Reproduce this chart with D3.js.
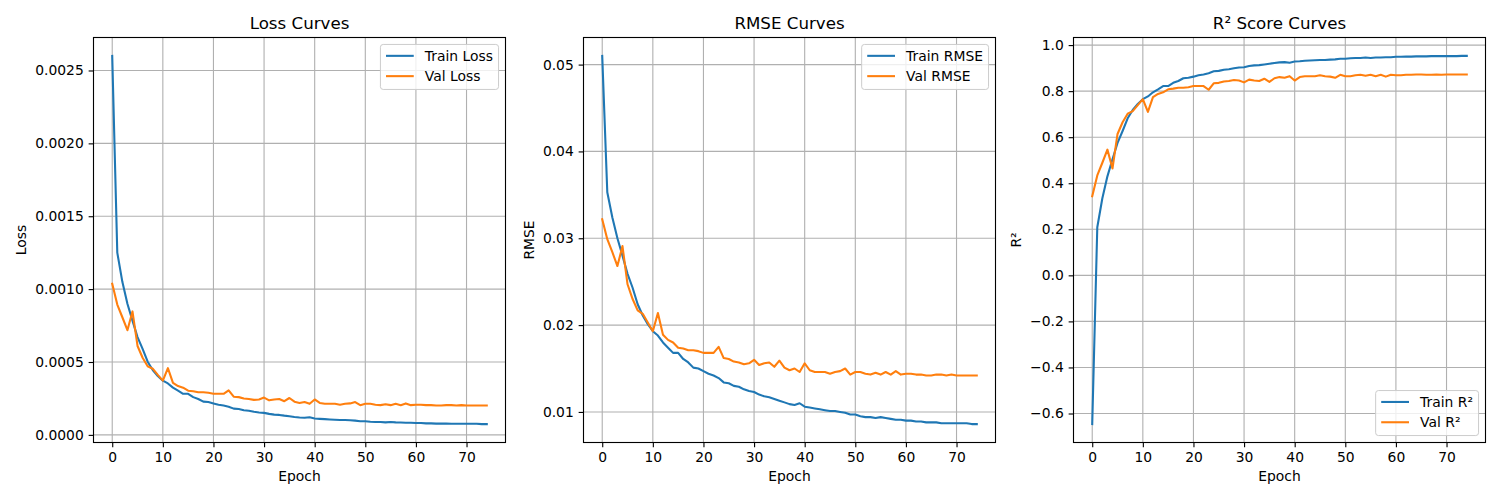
<!DOCTYPE html>
<html>
<head>
<meta charset="utf-8">
<script src="https://cdn.jsdelivr.net/npm/d3@7"></script>
<style>
body { margin: 0; background: #fff; }
text { font-family: "DejaVu Sans", sans-serif; fill: #000; }
</style>
</head>
<body>
<svg id="chart" width="1500" height="500"></svg>
<script>
// data, one value per epoch (0..74)
var trainLoss = [0.00260, 0.00125, 0.00105, 0.00090, 0.000784, 0.000671, 0.000590, 0.000502, 0.000445, 0.000404,
    0.000372, 0.000353, 0.000324, 0.000303, 0.000282, 0.000282, 0.000259, 0.000246, 0.000228, 0.000225,
    0.000216, 0.000207, 0.000202, 0.000193, 0.000180, 0.000177, 0.000169, 0.000166, 0.000159, 0.000154,
    0.000151, 0.000144, 0.000139, 0.000137, 0.000132, 0.000128, 0.000123, 0.000119, 0.000117, 0.000121,
    0.000112, 0.000110, 0.000108, 0.000106, 0.000104, 0.000102, 0.000102, 0.000100, 0.000098, 0.000094,
    0.000094, 0.000090, 0.000088, 0.000088, 0.000086, 0.000088, 0.000086, 0.000085, 0.000083, 0.000083,
    0.000081, 0.000081, 0.000079, 0.000079, 0.000077, 0.000077, 0.000077, 0.000076, 0.000076, 0.000076,
    0.000076, 0.000076, 0.000076, 0.000074, 0.000074];
var valLoss = [0.001037, 0.000894, 0.000807, 0.000718, 0.000847, 0.000610, 0.000529, 0.000471, 0.000454, 0.000412,
    0.000372, 0.000458, 0.000357, 0.000335, 0.000324, 0.000303, 0.000299, 0.000292, 0.000292, 0.000289,
    0.000282, 0.000282, 0.000282, 0.000306, 0.000262, 0.000259, 0.000250, 0.000246, 0.000240, 0.000243,
    0.000256, 0.000237, 0.000243, 0.000246, 0.000231, 0.000253, 0.000228, 0.000219, 0.000225, 0.000213,
    0.000243, 0.000219, 0.000213, 0.000213, 0.000213, 0.000207, 0.000213, 0.000216, 0.000225, 0.000204,
    0.000213, 0.000213, 0.000207, 0.000204, 0.000210, 0.000204, 0.000213, 0.000204, 0.000216, 0.000204,
    0.000207, 0.000207, 0.000204, 0.000204, 0.000202, 0.000202, 0.000204, 0.000204, 0.000202, 0.000204,
    0.000202, 0.000202, 0.000202, 0.000202, 0.000202];
var trainRmse = [0.0510, 0.0353, 0.0324, 0.0300, 0.0280, 0.0259, 0.0243, 0.0224, 0.0211, 0.0201,
    0.0193, 0.0188, 0.0180, 0.0174, 0.0168, 0.0168, 0.0161, 0.0157, 0.0151, 0.0150,
    0.0147, 0.0144, 0.0142, 0.0139, 0.0134, 0.0133, 0.0130, 0.0129, 0.0126, 0.0124,
    0.0123, 0.0120, 0.0118, 0.0117, 0.0115, 0.0113, 0.0111, 0.0109, 0.0108, 0.0110,
    0.0106, 0.0105, 0.0104, 0.0103, 0.0102, 0.0101, 0.0101, 0.0100, 0.0099, 0.0097,
    0.0097, 0.0095, 0.0094, 0.0094, 0.0093, 0.0094, 0.0093, 0.0092, 0.0091, 0.0091,
    0.0090, 0.0090, 0.0089, 0.0089, 0.0088, 0.0088, 0.0088, 0.0087, 0.0087, 0.0087,
    0.0087, 0.0087, 0.0087, 0.0086, 0.0086];
var valRmse = [0.0322, 0.0299, 0.0284, 0.0268, 0.0291, 0.0247, 0.0230, 0.0217, 0.0213, 0.0203,
    0.0193, 0.0214, 0.0189, 0.0183, 0.0180, 0.0174, 0.0173, 0.0171, 0.0171, 0.0170,
    0.0168, 0.0168, 0.0168, 0.0175, 0.0162, 0.0161, 0.0158, 0.0157, 0.0155, 0.0156,
    0.0160, 0.0154, 0.0156, 0.0157, 0.0152, 0.0159, 0.0151, 0.0148, 0.0150, 0.0146,
    0.0156, 0.0148, 0.0146, 0.0146, 0.0146, 0.0144, 0.0146, 0.0147, 0.0150, 0.0143,
    0.0146, 0.0146, 0.0144, 0.0143, 0.0145, 0.0143, 0.0146, 0.0143, 0.0147, 0.0143,
    0.0144, 0.0144, 0.0143, 0.0143, 0.0142, 0.0142, 0.0143, 0.0143, 0.0142, 0.0143,
    0.0142, 0.0142, 0.0142, 0.0142, 0.0142];
var trainR2 = [-0.646, 0.209, 0.335, 0.430, 0.504, 0.575, 0.627, 0.682, 0.718, 0.744,
    0.765, 0.777, 0.795, 0.808, 0.822, 0.822, 0.836, 0.844, 0.856, 0.858,
    0.863, 0.869, 0.872, 0.878, 0.886, 0.888, 0.893, 0.895, 0.899, 0.903,
    0.904, 0.909, 0.912, 0.913, 0.916, 0.919, 0.922, 0.925, 0.926, 0.923,
    0.929, 0.930, 0.932, 0.933, 0.934, 0.935, 0.935, 0.937, 0.938, 0.941,
    0.941, 0.943, 0.944, 0.944, 0.946, 0.944, 0.946, 0.946, 0.947, 0.947,
    0.949, 0.949, 0.950, 0.950, 0.951, 0.951, 0.951, 0.952, 0.952, 0.952,
    0.952, 0.952, 0.952, 0.953, 0.953];
var valR2 = [0.344, 0.434, 0.489, 0.546, 0.464, 0.614, 0.665, 0.702, 0.713, 0.739,
    0.765, 0.710, 0.774, 0.788, 0.795, 0.808, 0.811, 0.815, 0.815, 0.817,
    0.822, 0.822, 0.822, 0.806, 0.834, 0.836, 0.842, 0.844, 0.848, 0.846,
    0.838, 0.850, 0.846, 0.844, 0.854, 0.840, 0.856, 0.861, 0.858, 0.865,
    0.846, 0.861, 0.865, 0.865, 0.865, 0.869, 0.865, 0.863, 0.858, 0.871,
    0.865, 0.865, 0.869, 0.871, 0.867, 0.871, 0.865, 0.871, 0.863, 0.871,
    0.869, 0.869, 0.871, 0.871, 0.872, 0.872, 0.871, 0.871, 0.872, 0.871,
    0.872, 0.872, 0.872, 0.872, 0.872];

// tick labels
var epochTicks = [0, 10, 20, 30, 40, 50, 60, 70];
var lossTicks = [0, 0.0005, 0.0010, 0.0015, 0.0020, 0.0025];
var rmseTicks = [0.01, 0.02, 0.03, 0.04, 0.05];
var r2Ticks = [-0.6, -0.4, -0.2, 0.0, 0.2, 0.4, 0.6, 0.8, 1.0];

var panels = [
    {title: "Loss Curves", ylabel: "Loss", train: trainLoss, val: valLoss,
        names: ["Train Loss", "Val Loss"], ticks: lossTicks, fmt: d3.format(".4f"), legend: "top"},
    {title: "RMSE Curves", ylabel: "RMSE", train: trainRmse, val: valRmse,
        names: ["Train RMSE", "Val RMSE"], ticks: rmseTicks, fmt: d3.format(".2f"), legend: "top"},
    {title: "R\u00b2 Score Curves", ylabel: "R\u00b2", train: trainR2, val: valR2,
        names: ["Train R\u00b2", "Val R\u00b2"], ticks: r2Ticks, fmt: d3.format(".1f"), legend: "bottom"}
];

var colors = ["#1f77b4", "#ff7f0e"];
var pt = 100 / 72;            // matplotlib points -> px
var fs = 10 * pt;             // base font size
var lefts = [93.5, 583.5, 1073.5];
var plotTop = 37.5, width = 412, height = 405;

var svg = d3.select("#chart");

panels.forEach(function(p, k) {
    var g = svg.append("g")
        .attr("transform", "translate(" + lefts[k] + "," + plotTop + ")");

    var n = p.train.length;
    var x = d3.scaleLinear().domain([-0.05 * (n - 1), (n - 1) * 1.05]).range([0, width]);
    var all = p.train.concat(p.val);
    var lo = d3.min(all), hi = d3.max(all), m = (hi - lo) * 0.05;
    var y = d3.scaleLinear().domain([lo - m, hi + m]).range([height, 0]);

    // grid
    g.append("g").selectAll("line").data(epochTicks).enter().append("line")
        .attr("x1", function(d) { return x(d) }).attr("x2", function(d) { return x(d) })
        .attr("y1", 0).attr("y2", height)
        .attr("stroke", "#b0b0b0").attr("stroke-width", 0.8 * pt);
    g.append("g").selectAll("line").data(p.ticks).enter().append("line")
        .attr("y1", function(d) { return y(d) }).attr("y2", function(d) { return y(d) })
        .attr("x1", 0).attr("x2", width)
        .attr("stroke", "#b0b0b0").attr("stroke-width", 0.8 * pt);

    // curves
    var line = d3.line()
        .x(function(d, i) { return x(i) })
        .y(function(d) { return y(d) });
    [p.train, p.val].forEach(function(s, j) {
        g.append("path")
            .attr("d", line(s))
            .attr("fill", "none")
            .attr("stroke", colors[j])
            .attr("stroke-width", 1.5 * pt)
            .attr("stroke-linejoin", "round")
            .attr("stroke-linecap", "square");
    });

    // axes
    var xa = g.append("g")
        .attr("transform", "translate(0," + height + ")")
        .call(d3.axisBottom(x).tickValues(epochTicks).tickSize(3.5 * pt).tickPadding(3.5 * pt));
    var ya = g.append("g")
        .call(d3.axisLeft(y).tickValues(p.ticks).tickFormat(p.fmt).tickSize(3.5 * pt).tickPadding(3.5 * pt));
    [xa, ya].forEach(function(a) {
        a.attr("font-family", null).attr("font-size", null);
        a.select(".domain").remove();
        a.selectAll(".tick line").attr("stroke", "#000").attr("stroke-width", 0.8 * pt);
        a.selectAll(".tick text").style("font-size", fs + "px").attr("fill", "#000");
    });

    // spines
    g.append("rect")
        .attr("width", width).attr("height", height)
        .attr("fill", "none").attr("stroke", "#000").attr("stroke-width", 0.8 * pt);

    // title and labels
    g.append("text")
        .attr("x", width / 2).attr("y", -6 * pt)
        .attr("text-anchor", "middle")
        .style("font-size", (12 * pt) + "px")
        .text(p.title);
    g.append("text")
        .attr("x", width / 2).attr("y", height + 38.5)
        .attr("text-anchor", "middle")
        .style("font-size", fs + "px")
        .text("Epoch");

    var tw = 0;
    ya.selectAll(".tick text").each(function() { tw = Math.max(tw, this.getComputedTextLength()) });
    var lx = -7 * pt - tw - 4 * pt - 3.3;
    g.append("text")
        .attr("transform", "translate(" + lx + "," + (height / 2) + ") rotate(-90)")
        .attr("text-anchor", "middle")
        .style("font-size", fs + "px")
        .text(p.ylabel);

    // legend
    var leg = g.append("g");
    var box = leg.append("rect");
    var items = leg.selectAll(".item").data(p.names).enter().append("g").attr("class", "item");
    var rowH = 20.3, pad = 0.4 * fs, hl = 2 * fs, hp = 0.8 * fs;
    items.append("line")
        .attr("x1", pad).attr("x2", pad + hl)
        .attr("y1", function(d, i) { return 11.4 + i * rowH })
        .attr("y2", function(d, i) { return 11.4 + i * rowH })
        .attr("stroke", function(d, i) { return colors[i] })
        .attr("stroke-width", 1.5 * pt);
    items.append("text")
        .attr("x", pad + hl + hp)
        .attr("y", function(d, i) { return 11.4 + i * rowH })
        .attr("dy", "0.35em")
        .style("font-size", fs + "px")
        .text(function(d) { return d });
    var lw = 0;
    items.selectAll("text").each(function() { lw = Math.max(lw, this.getComputedTextLength()) });
    var bw = pad + hl + hp + lw + pad, bh = 45;
    box.attr("width", bw).attr("height", bh).attr("rx", 2.8)
        .attr("fill", "#fff").attr("fill-opacity", 0.8)
        .attr("stroke", "#cccccc").attr("stroke-width", 1);
    var bx = width - 0.5 * fs - bw;
    var by = p.legend == "top" ? 0.5 * fs : height - 0.5 * fs - bh;
    leg.attr("transform", "translate(" + bx + "," + by + ")");
});
</script>
</body>
</html>
